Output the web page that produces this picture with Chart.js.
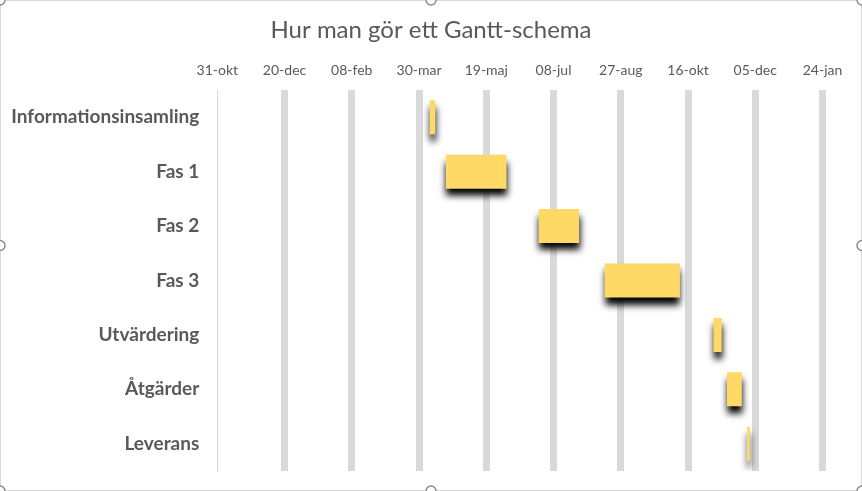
<!DOCTYPE html>
<html>
<head>
<meta charset="utf-8">
<script src="https://cdn.jsdelivr.net/npm/chart.js@4.4.1/dist/chart.umd.min.js"></script>
<style>
  html, body { margin: 0; padding: 0; background: #fff; }
  #wrap { width: 862px; height: 491px; }
</style>
</head>
<body>
<div id="wrap"><canvas id="chart" width="862" height="491"></canvas></div>
<script>
const title = 'Hur man gör ett Gantt-schema'
const tasks = ['Informationsinsamling', 'Fas 1', 'Fas 2', 'Fas 3', 'Utvärdering', 'Åtgärder', 'Leverans']
const startDates = ['2019-04-07', '2019-04-19', '2019-06-27', '2019-08-15', '2019-11-04', '2019-11-14', '2019-11-29']
const durations = [4, 45, 30, 56, 6, 11, 2]
const axisStart = '2018-10-31'
const axisEnd = '2020-01-24'
const stepDays = 50
const monthNames = ['jan', 'feb', 'mar', 'apr', 'maj', 'jun', 'jul', 'aug', 'sep', 'okt', 'nov', 'dec']

const DAY = 86400000
const t0 = Date.parse(axisStart)
const toDay = (s) => Math.round((Date.parse(s) - t0) / DAY)

const bars = startDates.map((d, i) => [toDay(d), toDay(d) + durations[i]])

const fmtTick = (v) => {
  const d = new Date(t0 + v * DAY)
  return String(d.getUTCDate()).padStart(2, '0') + '-' + monthNames[d.getUTCMonth()]
}

const fontFamily = 'Lato, "Liberation Sans", sans-serif'
const textColor = '#595959'

// shadow under the bars, like Excel's outer shadow
const shadowPlugin = {
  id: 'barShadow',
  beforeDatasetsDraw(chart) {
    const ctx = chart.ctx
    ctx.save()
    ctx.shadowColor = 'rgba(0,0,0,1)'
    ctx.shadowBlur = 7
    ctx.shadowOffsetX = 0.5
    ctx.shadowOffsetY = 7
  },
  afterDatasetsDraw(chart) {
    chart.ctx.restore()
  }
}

// chart frame with the selection handles
const framePlugin = {
  id: 'frame',
  afterDraw(chart) {
    const ctx = chart.ctx
    const w = chart.width, h = chart.height
    ctx.save()
    ctx.strokeStyle = '#d9d9d9'
    ctx.lineWidth = 1
    ctx.strokeRect(0.5, 0.5, w - 1, h - 1)
    const pts = [[0, 0], [w / 2, 0], [w, 0], [0, h / 2], [w, h / 2], [0, h], [w / 2, h], [w, h]]
    ctx.lineWidth = 1.5
    ctx.strokeStyle = '#8c8c8c'
    ctx.fillStyle = '#fff'
    pts.forEach(([x, y]) => {
      ctx.beginPath()
      ctx.arc(x, y, 5, 0, Math.PI * 2)
      ctx.fill()
      ctx.stroke()
    })
    ctx.restore()
  }
}

new Chart(document.getElementById('chart'), {
  type: 'bar',
  data: {
    labels: tasks,
    datasets: [{
      data: bars,
      backgroundColor: '#FFD966',
      borderWidth: 0,
      borderSkipped: false,
      barPercentage: 0.625,
      categoryPercentage: 1
    }]
  },
  options: {
    indexAxis: 'y',
    responsive: false,
    animation: false,
    layout: { padding: { left: 0, right: 0, top: 0, bottom: 20 } },
    plugins: {
      legend: { display: false },
      tooltip: { enabled: false },
      title: {
        display: true,
        text: title,
        color: textColor,
        font: { family: fontFamily, size: 24, weight: 'normal' },
        padding: { top: 15.6, bottom: 10 }
      }
    },
    scales: {
      x: {
        type: 'linear',
        position: 'top',
        min: 0,
        max: toDay(axisEnd),
        ticks: {
          stepSize: stepDays,
          callback: fmtTick,
          color: textColor,
          font: { family: fontFamily, size: 14 },
          maxRotation: 0,
          padding: 11.6
        },
        grid: {
          drawTicks: false,
          color: (c) => c.index === 0 ? 'rgba(0,0,0,0)' : '#d9d9d9',
          lineWidth: 7
        },
        border: { display: false },
        afterFit(scale) {
          scale.height = 35.6
          scale.paddingLeft = 0
          scale.paddingRight = 39.5
        }
      },
      y: {
        ticks: {
          color: textColor,
          font: { family: fontFamily, size: 19, weight: 'bold' },
          padding: 18
        },
        grid: { display: false, drawTicks: false },
        border: { display: true, color: '#d9d9d9', width: 1 },
        afterFit(scale) {
          scale.width = 217.3
          scale.paddingTop = 0
          scale.paddingBottom = 0
        }
      }
    }
  },
  plugins: [shadowPlugin, framePlugin]
})
</script>
</body>
</html>
